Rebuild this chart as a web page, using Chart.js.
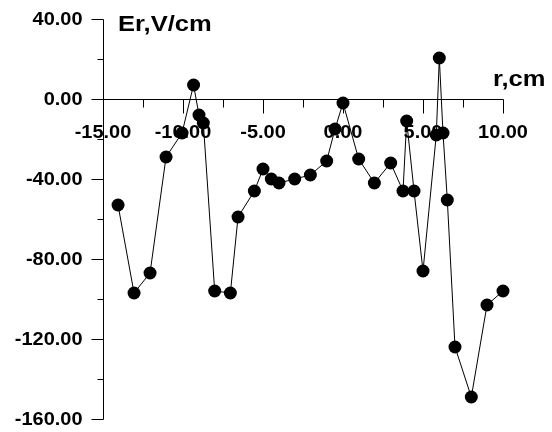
<!DOCTYPE html>
<html>
<head>
<meta charset="utf-8">
<script src="https://cdn.jsdelivr.net/npm/chart.js@4.4.0/dist/chart.umd.min.js"></script>
<style>
  html, body { margin: 0; padding: 0; background: #fff; }
  canvas { display: block; }
</style>
</head>
<body>
<canvas id="chart" width="552" height="432"></canvas>
<script>
// r (cm) and Er (V/cm)
const rVals = [-14.06, -13.06, -12.06, -11.06, -10.06, -9.34, -9.0, -8.73, -8.02, -7.04,
               -6.56, -5.54, -5.0, -4.48, -4.0, -3.02, -2.04, -1.02, -0.5, 0.0,
               0.98, 1.96, 2.98, 3.75, 3.98, 4.44, 5.0, 5.83, 6.02, 6.25,
               6.52, 7.0, 8.02, 9.0, 10.0];
const erVals = [-53, -97, -87, -29, -17, 7, -8, -12, -96, -97,
                -59, -46, -35, -40, -42, -40, -38, -31, -15, -2,
                -30, -42, -32, -46, -11, -46, -86, -18, 20.5, -17,
                -50.5, -124, -149, -103, -96];

const xTicks = [-15, -10, -5, 0, 5, 10];
const xMinor = [-12.5, -7.5, -2.5, 2.5, 7.5];
const yTicks = [40, 0, -40, -80, -120, -160];
const yMinor = [20, -20, -60, -100, -140];

const FONT = '"Liberation Sans", Arial, sans-serif';

function stretchText(ctx, txt, x, y, size, sx, align) {
    ctx.save();
    ctx.font = 'bold ' + size + 'px ' + FONT;
    ctx.textAlign = align;
    ctx.textBaseline = 'alphabetic';
    ctx.translate(x, y);
    ctx.scale(sx, 1);
    ctx.fillText(txt, 0, 0);
    ctx.restore();
}

// axes drawn by hand so the x axis can sit on y = 0 with minor ticks
const axesPlugin = {
    id: 'axes',
    beforeDatasetsDraw(chart) {
        const ctx = chart.ctx;
        const xs = chart.scales.x, ys = chart.scales.y;
        const x0 = Math.round(xs.getPixelForValue(-15)) + 0.5;
        const x1 = Math.round(xs.getPixelForValue(10)) + 0.5;
        const yTop = Math.round(ys.getPixelForValue(40)) + 0.5;
        const yBot = Math.round(ys.getPixelForValue(-160)) + 0.5;
        const yZero = Math.round(ys.getPixelForValue(0)) + 0.5;

        ctx.save();
        ctx.strokeStyle = '#000';
        ctx.fillStyle = '#000';
        ctx.lineWidth = 1;
        ctx.beginPath();
        // y axis
        ctx.moveTo(x0, yTop); ctx.lineTo(x0, yBot);
        yTicks.forEach(v => {
            const p = Math.round(ys.getPixelForValue(v)) + 0.5;
            ctx.moveTo(x0 - 12, p); ctx.lineTo(x0, p);
        });
        yMinor.forEach(v => {
            const p = Math.round(ys.getPixelForValue(v)) + 0.5;
            ctx.moveTo(x0 - 6, p); ctx.lineTo(x0, p);
        });
        // x axis at zero
        ctx.moveTo(x0, yZero); ctx.lineTo(x1, yZero);
        xTicks.forEach(v => {
            const p = Math.round(xs.getPixelForValue(v)) + 0.5;
            ctx.moveTo(p, yZero); ctx.lineTo(p, yZero + 14);
        });
        xMinor.forEach(v => {
            const p = Math.round(xs.getPixelForValue(v)) + 0.5;
            ctx.moveTo(p, yZero); ctx.lineTo(p, yZero + 8);
        });
        ctx.stroke();

        yTicks.forEach(v => {
            stretchText(ctx, v.toFixed(2), x0 - 21, ys.getPixelForValue(v) + 6, 17.5, 1.14, 'right');
        });
        xTicks.forEach(v => {
            stretchText(ctx, v.toFixed(2), xs.getPixelForValue(v), yZero + 38.5, 17.5, 1.14, 'center');
        });

        stretchText(ctx, 'Er,V/cm', 118, 31, 22, 1.16, 'left');
        stretchText(ctx, 'r,cm', 493, 86, 22, 1.16, 'left');
        ctx.restore();
    }
};

const points = rVals.map((r, i) => ({ x: r, y: erVals[i] }));

new Chart(document.getElementById('chart').getContext('2d'), {
    type: 'scatter',
    data: {
        datasets: [{
            data: points,
            showLine: true,
            borderColor: '#000',
            borderWidth: 1,
            pointRadius: 6.5,
            pointBackgroundColor: '#000',
            pointBorderWidth: 0,
            clip: false
        }]
    },
    options: {
        responsive: false,
        animation: false,
        devicePixelRatio: 1,
        layout: { padding: { left: 103, right: 49, top: 19, bottom: 13 } },
        plugins: { legend: { display: false }, tooltip: { enabled: false } },
        scales: {
            x: { type: 'linear', min: -15, max: 10, display: false },
            y: { type: 'linear', min: -160, max: 40, display: false }
        }
    },
    plugins: [axesPlugin]
});
</script>
</body>
</html>
